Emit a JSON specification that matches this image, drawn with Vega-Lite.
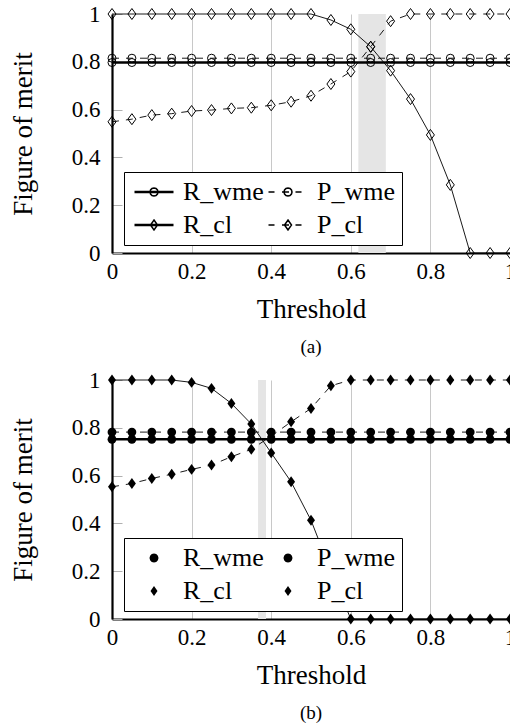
{
  "$schema": "https://vega.github.io/schema/vega-lite/v6.json",
  "background": "white",
  "padding": {"left": 9, "top": 3, "right": 0, "bottom": 0},
  "spacing": 12,
  "datasets": {
    "top": [
      {"x":0,"s":"R_wme","v":0.797},{"x":0.05,"s":"R_wme","v":0.797},{"x":0.1,"s":"R_wme","v":0.797},{"x":0.15,"s":"R_wme","v":0.797},{"x":0.2,"s":"R_wme","v":0.797},{"x":0.25,"s":"R_wme","v":0.797},{"x":0.3,"s":"R_wme","v":0.797},{"x":0.35,"s":"R_wme","v":0.797},{"x":0.4,"s":"R_wme","v":0.797},{"x":0.45,"s":"R_wme","v":0.797},{"x":0.5,"s":"R_wme","v":0.797},{"x":0.55,"s":"R_wme","v":0.797},{"x":0.6,"s":"R_wme","v":0.797},{"x":0.65,"s":"R_wme","v":0.797},{"x":0.7,"s":"R_wme","v":0.797},{"x":0.75,"s":"R_wme","v":0.797},{"x":0.8,"s":"R_wme","v":0.797},{"x":0.85,"s":"R_wme","v":0.797},{"x":0.9,"s":"R_wme","v":0.797},{"x":0.95,"s":"R_wme","v":0.797},{"x":1,"s":"R_wme","v":0.797},
      {"x":0,"s":"P_wme","v":0.815},{"x":0.05,"s":"P_wme","v":0.815},{"x":0.1,"s":"P_wme","v":0.815},{"x":0.15,"s":"P_wme","v":0.815},{"x":0.2,"s":"P_wme","v":0.815},{"x":0.25,"s":"P_wme","v":0.815},{"x":0.3,"s":"P_wme","v":0.815},{"x":0.35,"s":"P_wme","v":0.815},{"x":0.4,"s":"P_wme","v":0.815},{"x":0.45,"s":"P_wme","v":0.815},{"x":0.5,"s":"P_wme","v":0.815},{"x":0.55,"s":"P_wme","v":0.815},{"x":0.6,"s":"P_wme","v":0.815},{"x":0.65,"s":"P_wme","v":0.815},{"x":0.7,"s":"P_wme","v":0.815},{"x":0.75,"s":"P_wme","v":0.815},{"x":0.8,"s":"P_wme","v":0.815},{"x":0.85,"s":"P_wme","v":0.815},{"x":0.9,"s":"P_wme","v":0.815},{"x":0.95,"s":"P_wme","v":0.815},{"x":1,"s":"P_wme","v":0.815},
      {"x":0,"s":"R_cl","v":1},{"x":0.05,"s":"R_cl","v":1},{"x":0.1,"s":"R_cl","v":1},{"x":0.15,"s":"R_cl","v":1},{"x":0.2,"s":"R_cl","v":1},{"x":0.25,"s":"R_cl","v":1},{"x":0.3,"s":"R_cl","v":1},{"x":0.35,"s":"R_cl","v":1},{"x":0.4,"s":"R_cl","v":1},{"x":0.45,"s":"R_cl","v":1},{"x":0.5,"s":"R_cl","v":1},{"x":0.55,"s":"R_cl","v":0.975},{"x":0.6,"s":"R_cl","v":0.936},{"x":0.65,"s":"R_cl","v":0.863},{"x":0.7,"s":"R_cl","v":0.763},{"x":0.75,"s":"R_cl","v":0.644},{"x":0.8,"s":"R_cl","v":0.494},{"x":0.85,"s":"R_cl","v":0.285},{"x":0.9,"s":"R_cl","v":0},{"x":0.95,"s":"R_cl","v":0},{"x":1,"s":"R_cl","v":0},
      {"x":0,"s":"P_cl","v":0.549},{"x":0.05,"s":"P_cl","v":0.56},{"x":0.1,"s":"P_cl","v":0.577},{"x":0.15,"s":"P_cl","v":0.583},{"x":0.2,"s":"P_cl","v":0.594},{"x":0.25,"s":"P_cl","v":0.598},{"x":0.3,"s":"P_cl","v":0.605},{"x":0.35,"s":"P_cl","v":0.608},{"x":0.4,"s":"P_cl","v":0.618},{"x":0.45,"s":"P_cl","v":0.633},{"x":0.5,"s":"P_cl","v":0.658},{"x":0.55,"s":"P_cl","v":0.707},{"x":0.6,"s":"P_cl","v":0.759},{"x":0.65,"s":"P_cl","v":0.863},{"x":0.7,"s":"P_cl","v":0.97},{"x":0.75,"s":"P_cl","v":1},{"x":0.8,"s":"P_cl","v":1},{"x":0.85,"s":"P_cl","v":1},{"x":0.9,"s":"P_cl","v":1},{"x":0.95,"s":"P_cl","v":1},{"x":1,"s":"P_cl","v":1}
    ],
    "bot": [
      {"x":0,"s":"R_wme","v":0.752},{"x":0.05,"s":"R_wme","v":0.752},{"x":0.1,"s":"R_wme","v":0.752},{"x":0.15,"s":"R_wme","v":0.752},{"x":0.2,"s":"R_wme","v":0.752},{"x":0.25,"s":"R_wme","v":0.752},{"x":0.3,"s":"R_wme","v":0.752},{"x":0.35,"s":"R_wme","v":0.752},{"x":0.4,"s":"R_wme","v":0.752},{"x":0.45,"s":"R_wme","v":0.752},{"x":0.5,"s":"R_wme","v":0.752},{"x":0.55,"s":"R_wme","v":0.752},{"x":0.6,"s":"R_wme","v":0.752},{"x":0.65,"s":"R_wme","v":0.752},{"x":0.7,"s":"R_wme","v":0.752},{"x":0.75,"s":"R_wme","v":0.752},{"x":0.8,"s":"R_wme","v":0.752},{"x":0.85,"s":"R_wme","v":0.752},{"x":0.9,"s":"R_wme","v":0.752},{"x":0.95,"s":"R_wme","v":0.752},{"x":1,"s":"R_wme","v":0.752},
      {"x":0,"s":"P_wme","v":0.782},{"x":0.05,"s":"P_wme","v":0.782},{"x":0.1,"s":"P_wme","v":0.782},{"x":0.15,"s":"P_wme","v":0.782},{"x":0.2,"s":"P_wme","v":0.782},{"x":0.25,"s":"P_wme","v":0.782},{"x":0.3,"s":"P_wme","v":0.782},{"x":0.35,"s":"P_wme","v":0.782},{"x":0.4,"s":"P_wme","v":0.782},{"x":0.45,"s":"P_wme","v":0.782},{"x":0.5,"s":"P_wme","v":0.782},{"x":0.55,"s":"P_wme","v":0.782},{"x":0.6,"s":"P_wme","v":0.782},{"x":0.65,"s":"P_wme","v":0.782},{"x":0.7,"s":"P_wme","v":0.782},{"x":0.75,"s":"P_wme","v":0.782},{"x":0.8,"s":"P_wme","v":0.782},{"x":0.85,"s":"P_wme","v":0.782},{"x":0.9,"s":"P_wme","v":0.782},{"x":0.95,"s":"P_wme","v":0.782},{"x":1,"s":"P_wme","v":0.782},
      {"x":0,"s":"R_cl","v":1},{"x":0.05,"s":"R_cl","v":1},{"x":0.1,"s":"R_cl","v":1},{"x":0.15,"s":"R_cl","v":1},{"x":0.2,"s":"R_cl","v":0.99},{"x":0.25,"s":"R_cl","v":0.965},{"x":0.3,"s":"R_cl","v":0.902},{"x":0.35,"s":"R_cl","v":0.816},{"x":0.4,"s":"R_cl","v":0.695},{"x":0.45,"s":"R_cl","v":0.574},{"x":0.5,"s":"R_cl","v":0.413},{"x":0.55,"s":"R_cl","v":0.2},{"x":0.6,"s":"R_cl","v":0},{"x":0.65,"s":"R_cl","v":0},{"x":0.7,"s":"R_cl","v":0},{"x":0.75,"s":"R_cl","v":0},{"x":0.8,"s":"R_cl","v":0},{"x":0.85,"s":"R_cl","v":0},{"x":0.9,"s":"R_cl","v":0},{"x":0.95,"s":"R_cl","v":0},{"x":1,"s":"R_cl","v":0},
      {"x":0,"s":"P_cl","v":0.553},{"x":0.05,"s":"P_cl","v":0.567},{"x":0.1,"s":"P_cl","v":0.588},{"x":0.15,"s":"P_cl","v":0.606},{"x":0.2,"s":"P_cl","v":0.626},{"x":0.25,"s":"P_cl","v":0.644},{"x":0.3,"s":"P_cl","v":0.679},{"x":0.35,"s":"P_cl","v":0.71},{"x":0.4,"s":"P_cl","v":0.765},{"x":0.45,"s":"P_cl","v":0.825},{"x":0.5,"s":"P_cl","v":0.881},{"x":0.55,"s":"P_cl","v":0.976},{"x":0.6,"s":"P_cl","v":1},{"x":0.65,"s":"P_cl","v":1},{"x":0.7,"s":"P_cl","v":1},{"x":0.75,"s":"P_cl","v":1},{"x":0.8,"s":"P_cl","v":1},{"x":0.85,"s":"P_cl","v":1},{"x":0.9,"s":"P_cl","v":1},{"x":0.95,"s":"P_cl","v":1},{"x":1,"s":"P_cl","v":1}
    ]
  },
  "vconcat": [
    {
      "width": 398, "height": 239,
      "title": {"text": "(a)", "orient": "bottom", "anchor": "middle", "frame": "group", "offset": 16, "font": "Liberation Serif", "fontSize": 19, "fontWeight": "normal", "color": "black"},
      "encoding": {
        "x": {"field": "x", "type": "quantitative", "scale": {"domain": [0, 1], "nice": false, "zero": false},
              "axis": {"values": [0, 0.2, 0.4, 0.6, 0.8, 1], "format": "~g", "title": "Threshold", "grid": true, "gridColor": "#c8c8c8", "gridWidth": 1, "ticks": false, "labelPadding": 7, "labelFlush": false, "domainColor": "black", "domainWidth": 2.2, "titlePadding": 13,
                       "labelFont": "Liberation Serif", "labelFontSize": 23, "labelColor": "black", "titleFont": "Liberation Serif", "titleFontSize": 27, "titleFontWeight": "normal", "titleColor": "black"}},
        "y": {"field": "v", "type": "quantitative", "scale": {"domain": [0, 1], "nice": false},
              "axis": {"values": [0, 0.2, 0.4, 0.6, 0.8, 1], "format": "~g", "title": "Figure of merit", "grid": false, "tickSize": -10, "tickColor": "#b0b0b0", "tickWidth": 1, "labelPadding": 22, "domainColor": "black", "domainWidth": 2.2, "titlePadding": 34,
                       "labelFont": "Liberation Serif", "labelFontSize": 23, "labelColor": "black", "titleFont": "Liberation Serif", "titleFontSize": 27, "titleFontWeight": "normal", "titleColor": "black"}}
      },
      "layer": [
        {"data": {"values": [{"x": 0.619, "x2": 0.688, "v": 0, "v2": 1}]},
         "mark": {"type": "rect", "color": "#e5e5e5"},
         "encoding": {"x2": {"field": "x2"}, "y2": {"field": "v2"}}},
        {"data": {"name": "top"}, "transform": [{"filter": "datum.s === 'R_wme'"}],
         "mark": {"type": "line", "color": "black", "strokeWidth": 2.4}, "encoding": {}},
        {"data": {"name": "top"}, "transform": [{"filter": "datum.s === 'R_cl'"}],
         "mark": {"type": "line", "color": "black", "strokeWidth": 0.9}, "encoding": {}},
        {"data": {"name": "top"}, "transform": [{"filter": "datum.s === 'P_wme' || datum.s === 'P_cl'"}],
         "mark": {"type": "line", "color": "black", "strokeWidth": 0.9, "strokeDash": [7, 7]},
         "encoding": {"detail": {"field": "s", "type": "nominal"}}},
        {"data": {"name": "top"}, "transform": [{"filter": "datum.s === 'R_wme' || datum.s === 'P_wme'"}],
         "mark": {"type": "point", "shape": "circle", "filled": false, "stroke": "black", "strokeWidth": 1, "size": 64, "opacity": 1}, "encoding": {}},
        {"data": {"name": "top"}, "transform": [{"filter": "datum.s === 'R_cl' || datum.s === 'P_cl'"}],
         "mark": {"type": "point", "shape": "M0,-1.375L1,0L0,1.375L-1,0Z", "filled": false, "stroke": "black", "strokeWidth": 1, "size": 64, "opacity": 1}, "encoding": {}},
        {"data": {"name": "top"},
         "mark": {"type": "point", "opacity": 0, "filled": false, "stroke": "black"},
         "encoding": {
           "shape": {"field": "s", "type": "nominal",
                     "scale": {"domain": ["R_wme", "R_cl", "P_wme", "P_cl"],
                               "range": ["M-1.95,-0.05L1.95,-0.05M-1.95,0.05L1.95,0.05M0.4,0L0.346,0.2L0.2,0.346L0,0.4L-0.2,0.346L-0.346,0.2L-0.4,0L-0.346,-0.2L-0.2,-0.346L0,-0.4L0.2,-0.346L0.346,-0.2Z",
                                         "M-1.95,-0.05L1.95,-0.05M-1.95,0.05L1.95,0.05M0,-0.5L0.35,0L0,0.5L-0.35,0Z",
                                         "M-1.95,0L-1.35,0M-0.6,0L0.1,0M0.75,0L1.35,0M0.4,0L0.346,0.2L0.2,0.346L0,0.4L-0.2,0.346L-0.346,0.2L-0.4,0L-0.346,-0.2L-0.2,-0.346L0,-0.4L0.2,-0.346L0.346,-0.2Z",
                                         "M-1.95,0L-1.35,0M-0.6,0L0.1,0M0.75,0L1.35,0M0,-0.5L0.35,0L0,0.5L-0.35,0Z"]},
                     "legend": {"title": null, "orient": "none", "legendX": 12, "legendY": 158, "columns": 2, "symbolSize": 400, "symbolOffset": 10, "labelOffset": 16, "rowPadding": 7, "columnPadding": 1, "padding": 7, "fillColor": "white", "strokeColor": "black",
                                "labelFont": "Liberation Serif", "labelFontSize": 26, "labelColor": "black",
                                "encode": {"symbols": {"size": {"value": 400}, "fill": {"value": "transparent"}, "stroke": {"value": "black"}, "strokeWidth": {"value": 1}, "opacity": {"value": 1}}}}}
         }}
      ]
    },
    {
      "width": 398, "height": 239,
      "title": {"text": "(b)", "orient": "bottom", "anchor": "middle", "frame": "group", "offset": 16, "font": "Liberation Serif", "fontSize": 19, "fontWeight": "normal", "color": "black"},
      "encoding": {
        "x": {"field": "x", "type": "quantitative", "scale": {"domain": [0, 1], "nice": false, "zero": false},
              "axis": {"values": [0, 0.2, 0.4, 0.6, 0.8, 1], "format": "~g", "title": "Threshold", "grid": true, "gridColor": "#c8c8c8", "gridWidth": 1, "ticks": false, "labelPadding": 7, "labelFlush": false, "domainColor": "black", "domainWidth": 2.2, "titlePadding": 13,
                       "labelFont": "Liberation Serif", "labelFontSize": 23, "labelColor": "black", "titleFont": "Liberation Serif", "titleFontSize": 27, "titleFontWeight": "normal", "titleColor": "black"}},
        "y": {"field": "v", "type": "quantitative", "scale": {"domain": [0, 1], "nice": false},
              "axis": {"values": [0, 0.2, 0.4, 0.6, 0.8, 1], "format": "~g", "title": "Figure of merit", "grid": false, "tickSize": -10, "tickColor": "#b0b0b0", "tickWidth": 1, "labelPadding": 22, "domainColor": "black", "domainWidth": 2.2, "titlePadding": 34,
                       "labelFont": "Liberation Serif", "labelFontSize": 23, "labelColor": "black", "titleFont": "Liberation Serif", "titleFontSize": 27, "titleFontWeight": "normal", "titleColor": "black"}}
      },
      "layer": [
        {"data": {"values": [{"x": 0.367, "x2": 0.387, "v": 0, "v2": 1}]},
         "mark": {"type": "rect", "color": "#e5e5e5"},
         "encoding": {"x2": {"field": "x2"}, "y2": {"field": "v2"}}},
        {"data": {"name": "bot"}, "transform": [{"filter": "datum.s === 'R_wme'"}],
         "mark": {"type": "line", "color": "black", "strokeWidth": 2.4}, "encoding": {}},
        {"data": {"name": "bot"}, "transform": [{"filter": "datum.s === 'R_cl'"}],
         "mark": {"type": "line", "color": "black", "strokeWidth": 0.9}, "encoding": {}},
        {"data": {"name": "bot"}, "transform": [{"filter": "datum.s === 'P_wme' || datum.s === 'P_cl'"}],
         "mark": {"type": "line", "color": "black", "strokeWidth": 0.9, "strokeDash": [7, 7]},
         "encoding": {"detail": {"field": "s", "type": "nominal"}}},
        {"data": {"name": "bot"}, "transform": [{"filter": "datum.s === 'R_wme' || datum.s === 'P_wme'"}],
         "mark": {"type": "point", "shape": "circle", "filled": true, "color": "black", "size": 78, "opacity": 1}, "encoding": {}},
        {"data": {"name": "bot"}, "transform": [{"filter": "datum.s === 'R_cl' || datum.s === 'P_cl'"}],
         "mark": {"type": "point", "shape": "M0,-1.24L0.9,0L0,1.24L-0.9,0Z", "filled": true, "color": "black", "size": 78, "opacity": 1}, "encoding": {}},
        {"data": {"name": "bot"},
         "mark": {"type": "point", "opacity": 0, "filled": true, "fill": "black", "stroke": "black", "strokeWidth": 1},
         "encoding": {
           "shape": {"field": "s", "type": "nominal",
                     "scale": {"domain": ["R_wme", "R_cl", "P_wme", "P_cl"],
                               "range": ["M-1.95,-0.05L1.95,-0.05M-1.95,0.05L1.95,0.05M0.45,0L0.39,0.225L0.225,0.39L0,0.45L-0.225,0.39L-0.39,0.225L-0.45,0L-0.39,-0.225L-0.225,-0.39L0,-0.45L0.225,-0.39L0.39,-0.225Z",
                                         "M-1.95,-0.05L1.95,-0.05M-1.95,0.05L1.95,0.05M0,-0.5L0.35,0L0,0.5L-0.35,0Z",
                                         "M-1.95,0L-1.35,0M-0.6,0L0.1,0M0.75,0L1.35,0M0.45,0L0.39,0.225L0.225,0.39L0,0.45L-0.225,0.39L-0.39,0.225L-0.45,0L-0.39,-0.225L-0.225,-0.39L0,-0.45L0.225,-0.39L0.39,-0.225Z",
                                         "M-1.95,0L-1.35,0M-0.6,0L0.1,0M0.75,0L1.35,0M0,-0.5L0.35,0L0,0.5L-0.35,0Z"]},
                     "legend": {"title": null, "orient": "none", "legendX": 12, "legendY": 158, "columns": 2, "symbolSize": 400, "symbolOffset": 10, "labelOffset": 16, "rowPadding": 7, "columnPadding": 1, "padding": 7, "fillColor": "white", "strokeColor": "black",
                                "symbolFillColor": "black", "symbolStrokeColor": "black", "symbolStrokeWidth": 1, "symbolOpacity": 1,
                                "labelFont": "Liberation Serif", "labelFontSize": 26, "labelColor": "black",
                                "encode": {"symbols": {"size": {"value": 400}, "fill": {"value": "black"}, "stroke": {"value": "black"}, "strokeWidth": {"value": 1}, "opacity": {"value": 1}}}}}
         }}
      ]
    }
  ],
  "resolve": {
    "scale": {"x": "independent", "y": "independent", "shape": "independent"},
    "legend": {"shape": "independent"}
  },
  "config": {
    "view": {"stroke": null}
  }
}
